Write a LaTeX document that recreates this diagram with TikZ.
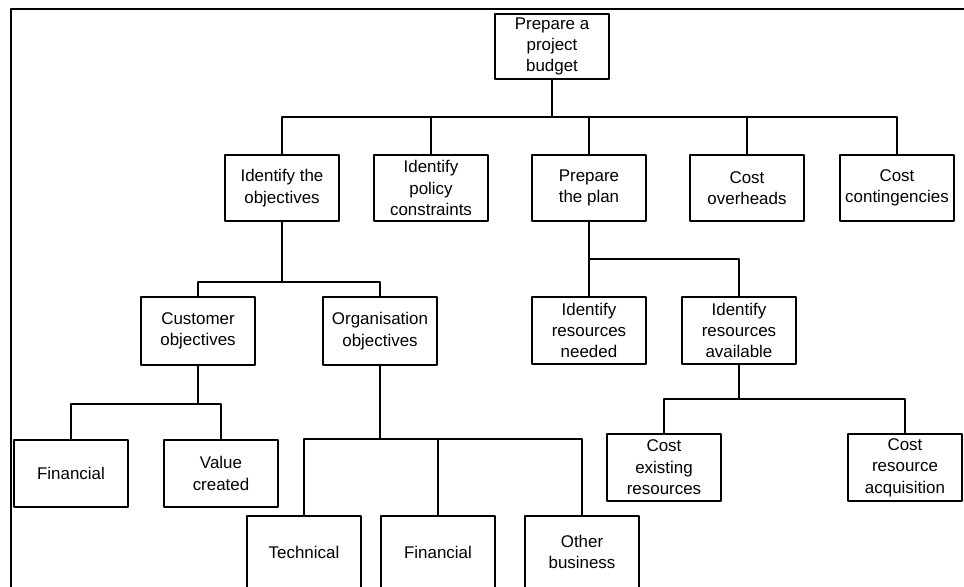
\documentclass[tikz,border=0pt]{standalone}
\usepackage{fontspec}
\setmainfont{Liberation Sans}
\begin{document}
\begin{tikzpicture}[line join=bevel,
  task/.style={draw,line width=1.6bp,minimum width=114bp,minimum height=66bp,
    inner sep=1bp,align=center,font=\fontsize{17}{21.5}\selectfont},
  link/.style={line width=1.6bp}]
\useasboundingbox (0bp,0bp) rectangle (964bp,587bp);
%%
\draw [link] (964bp,578bp) -- (11bp,578bp) -- (11bp,0bp);
\node (node_budget) at (552bp,540.5bp) [task,minimum height=65bp] {Prepare a\\project\\budget};
  \node (node_objectives) at (282bp,399bp) [task] {Identify the\\objectives};
  \node (node_policy) at (431bp,399bp) [task] {Identify\\policy\\constraints};
  \node (node_plan) at (589bp,399bp) [task] {Prepare\\the plan};
  \node (node_overheads) at (747bp,399bp) [task] {Cost\\overheads};
  \node (node_contingencies) at (897bp,399bp) [task] {Cost\\contingencies};
  \node (node_customer) at (198bp,256bp) [task,minimum height=68bp] {Customer\\objectives};
  \node (node_organisation) at (380bp,256bp) [task,minimum height=68bp] {Organisation\\objectives};
  \node (node_needed) at (589bp,256.5bp) [task,minimum height=67bp] {Identify\\resources\\needed};
  \node (node_available) at (739bp,256.5bp) [task,minimum height=67bp] {Identify\\resources\\available};
  \node (node_custfinancial) at (71bp,113.5bp) [task,minimum height=67bp] {Financial};
  \node (node_value) at (221bp,113.5bp) [task,minimum height=67bp] {Value\\created};
  \node (node_technical) at (304bp,35bp) [task,minimum height=72bp] {Technical};
  \node (node_orgfinancial) at (438bp,35bp) [task,minimum height=72bp] {Financial};
  \node (node_other) at (582bp,35bp) [task,minimum height=72bp] {Other\\business};
  \node (node_existing) at (664bp,119.5bp) [task,minimum height=67bp] {Cost\\existing\\resources};
  \node (node_acquisition) at (905bp,119.5bp) [task,minimum height=67bp] {Cost\\resource\\acquisition};
%
\coordinate (j_budget) at (552bp,470bp);
  \coordinate (j_objectives) at (282bp,305bp);
  \coordinate (j_plan) at (589bp,328bp);
  \coordinate (j_customer) at (198bp,183bp);
  \coordinate (j_organisation) at (380bp,148bp);
  \coordinate (j_available) at (739bp,188bp);
%
\draw [link] (node_budget) -- (j_budget) -| (node_objectives);
  \draw [link] (j_budget) -| (node_policy);
  \draw [link] (j_budget) -| (node_plan);
  \draw [link] (j_budget) -| (node_overheads);
  \draw [link] (j_budget) -| (node_contingencies);
  \draw [link] (node_objectives) -- (j_objectives) -| (node_customer);
  \draw [link] (j_objectives) -| (node_organisation);
  \draw [link] (node_plan) -- (j_plan) -| (node_needed);
  \draw [link] (j_plan) -| (node_available);
  \draw [link] (node_customer) -- (j_customer) -| (node_custfinancial);
  \draw [link] (j_customer) -| (node_value);
  \draw [link] (node_organisation) -- (j_organisation) -| (node_technical);
  \draw [link] (j_organisation) -| (node_orgfinancial);
  \draw [link] (j_organisation) -| (node_other);
  \draw [link] (node_available) -- (j_available) -| (node_existing);
  \draw [link] (j_available) -| (node_acquisition);
%
\end{tikzpicture}
\end{document}
